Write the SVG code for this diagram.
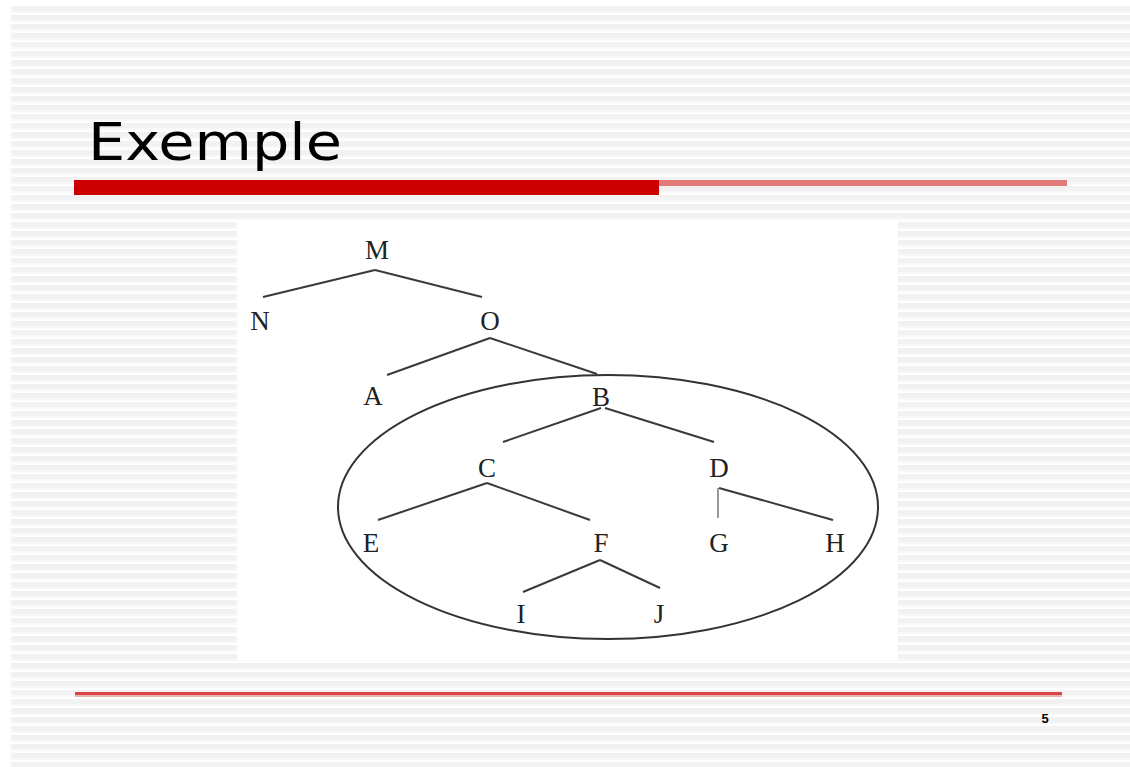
<svg xmlns="http://www.w3.org/2000/svg" width="1130" height="767" viewBox="0 0 1130 767">
  <defs>
    <pattern id="stripes" x="0" y="6" width="20" height="9" patternUnits="userSpaceOnUse">
      <rect width="20" height="9" fill="#ffffff"/>
      <rect y="0" width="20" height="5" fill="#f2f2f2"/>
      <rect y="5" width="20" height="2" fill="#f8f8f8"/>
    </pattern>
    <style>
      .lbl { font-family: "Liberation Serif", "Times New Roman", serif; font-size: 27px; fill: #222; text-anchor: middle; }
      .edge { stroke: #3a3a3a; stroke-width: 2; fill: none; }
    </style>
  </defs>
  <rect width="1130" height="767" fill="#ffffff"/>
  <rect x="11" y="6" width="1119" height="761" fill="url(#stripes)"/>

  <text x="88" y="160" font-family="'DejaVu Sans', Verdana, sans-serif" font-size="52" fill="#000" textLength="254" lengthAdjust="spacingAndGlyphs">Exemple</text>
  <rect x="74" y="180" width="585" height="15" fill="#cc0000"/>
  <rect x="659" y="180" width="408" height="6" fill="#e27a7a"/>
  <rect x="75" y="692" width="987" height="3" fill="#d94545"/>
  <rect x="75" y="695" width="987" height="2" fill="#e8b4b4"/>
  <text x="1045" y="723" font-family="'Liberation Sans', Arial, sans-serif" font-size="13" font-weight="bold" fill="#000" text-anchor="middle">5</text>

  <rect x="237" y="220" width="661" height="440" fill="#ffffff"/>

  <g id="connectors">
    <line class="edge" x1="375" y1="270" x2="263" y2="297"/>
    <line class="edge" x1="375" y1="270" x2="482" y2="297"/>
    <line class="edge" x1="490" y1="338" x2="387" y2="375"/>
    <line class="edge" x1="490" y1="338" x2="597" y2="374"/>
    <line class="edge" x1="601" y1="408" x2="503" y2="442"/>
    <line class="edge" x1="605" y1="408" x2="714" y2="442"/>
    <line class="edge" x1="487" y1="483" x2="378" y2="520"/>
    <line class="edge" x1="487" y1="483" x2="590" y2="520"/>
    <line x1="718" y1="488" x2="718" y2="518" stroke="#999" stroke-width="2"/>
    <line class="edge" x1="719" y1="488" x2="833" y2="520"/>
    <line class="edge" x1="600" y1="560" x2="523" y2="592"/>
    <line class="edge" x1="600" y1="560" x2="660" y2="588"/>
  </g>

  <g id="ellipse">
    <ellipse cx="608" cy="507" rx="270" ry="132" fill="none" stroke="#333" stroke-width="2"/>
  </g>

  <g id="node-M"><text class="lbl" x="377" y="259">M</text></g>
  <g id="node-N"><text class="lbl" x="260" y="330">N</text></g>
  <g id="node-O"><text class="lbl" x="490" y="330">O</text></g>
  <g id="node-A"><text class="lbl" x="373" y="405">A</text></g>
  <g id="node-B"><text class="lbl" x="601" y="406">B</text></g>
  <g id="node-C"><text class="lbl" x="487" y="477">C</text></g>
  <g id="node-D"><text class="lbl" x="719" y="477">D</text></g>
  <g id="node-E"><text class="lbl" x="371" y="552">E</text></g>
  <g id="node-F"><text class="lbl" x="601" y="552">F</text></g>
  <g id="node-G"><text class="lbl" x="719" y="552">G</text></g>
  <g id="node-H"><text class="lbl" x="835" y="552">H</text></g>
  <g id="node-I"><text class="lbl" x="521" y="623">I</text></g>
  <g id="node-J"><text class="lbl" x="659" y="623">J</text></g>
</svg>
